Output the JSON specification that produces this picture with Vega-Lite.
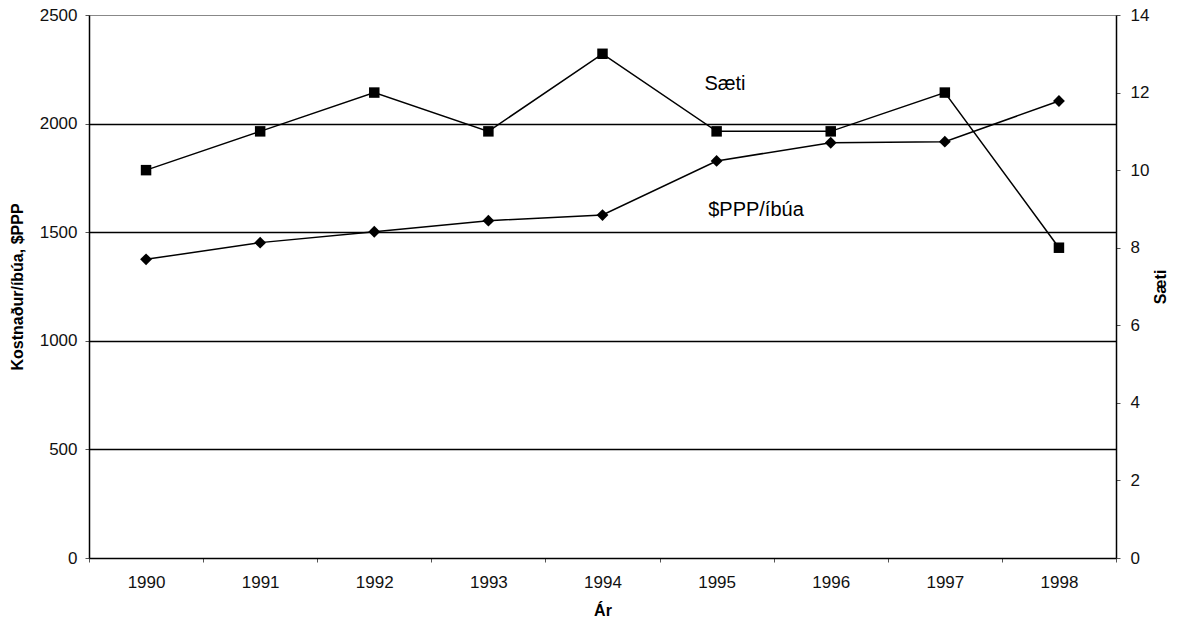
{
  "$schema": "https://vega.github.io/schema/vega-lite/v6.json",
  "width": 1027,
  "height": 543,
  "autosize": {"type": "none"},
  "padding": {"left": 89, "top": 15, "right": 73, "bottom": 68},
  "background": "white",
  "config": {
    "font": "Liberation Sans",
    "view": {"stroke": "#888888", "strokeWidth": 1},
    "axis": {
      "labelFont": "Liberation Sans",
      "titleFont": "Liberation Sans",
      "labelColor": "#111",
      "titleColor": "#000",
      "domainColor": "#000",
      "tickColor": "#555",
      "labelFontSize": 17,
      "titleFontSize": 16,
      "titleFontWeight": "bold"
    }
  },
  "datasets": {
    "main": [
      {"year": "1990", "ppp": 1375, "saeti": 10},
      {"year": "1991", "ppp": 1452, "saeti": 11},
      {"year": "1992", "ppp": 1502, "saeti": 12},
      {"year": "1993", "ppp": 1553, "saeti": 11},
      {"year": "1994", "ppp": 1579, "saeti": 13},
      {"year": "1995", "ppp": 1828, "saeti": 11},
      {"year": "1996", "ppp": 1912, "saeti": 11},
      {"year": "1997", "ppp": 1917, "saeti": 12},
      {"year": "1998", "ppp": 2104, "saeti": 8}
    ]
  },
  "encoding": {
    "x": {
      "field": "year",
      "type": "nominal",
      "scale": {"type": "band", "paddingInner": 0, "paddingOuter": 0},
      "axis": {
        "title": "Ár",
        "labelAngle": 0,
        "tickBand": "extent",
        "tickSize": 4,
        "labelPadding": 12,
        "titlePadding": 12,
        "domainWidth": 1.5
      }
    }
  },
  "layer": [
    {
      "encoding": {
        "y": {
          "type": "quantitative",
          "scale": {"domain": [0, 2500], "nice": false},
          "axis": {
            "title": "Kostnaður/íbúa, $PPP",
            "orient": "left",
            "format": "d",
            "values": [0, 500, 1000, 1500, 2000, 2500],
            "grid": true,
            "gridColor": {"condition": {"test": "datum.value === 0 || datum.value === 2500", "value": "transparent"}, "value": "#000"},
            "gridWidth": 1.6,
            "tickSize": 4,
            "labelPadding": 8,
            "titlePadding": 14,
            "domainWidth": 1.5
          }
        }
      },
      "layer": [
        {
          "data": {"name": "main"},
          "mark": {"type": "line", "color": "#000", "strokeWidth": 1.5},
          "encoding": {"y": {"field": "ppp", "type": "quantitative"}}
        },
        {
          "data": {"name": "main"},
          "mark": {"type": "point", "shape": "diamond", "filled": true, "color": "#000", "size": 140, "opacity": 1},
          "encoding": {"y": {"field": "ppp", "type": "quantitative"}}
        },
        {
          "data": {"values": [{"year": "1995", "v": 2182, "label": "Sæti"}]},
          "mark": {"type": "text", "fontSize": 20, "color": "#000", "baseline": "middle", "align": "center"},
          "encoding": {
            "x": {"field": "year", "type": "nominal", "bandPosition": 0.573},
            "y": {"field": "v", "type": "quantitative"},
            "text": {"field": "label"}
          }
        },
        {
          "data": {"values": [{"year": "1995", "v": 1602, "label": "$PPP/íbúa"}]},
          "mark": {"type": "text", "fontSize": 20, "color": "#000", "baseline": "middle", "align": "center"},
          "encoding": {
            "x": {"field": "year", "type": "nominal", "bandPosition": 0.845},
            "y": {"field": "v", "type": "quantitative"},
            "text": {"field": "label"}
          }
        }
      ]
    },
    {
      "data": {"name": "main"},
      "encoding": {
        "y": {
          "field": "saeti",
          "type": "quantitative",
          "scale": {"domain": [0, 14], "nice": false},
          "axis": {
            "title": "Sæti",
            "orient": "right",
            "titleAngle": 270,
            "values": [0, 2, 4, 6, 8, 10, 12, 14],
            "grid": false,
            "tickSize": 4,
            "labelPadding": 10,
            "titlePadding": 20,
            "domainWidth": 1.5
          }
        }
      },
      "layer": [
        {"mark": {"type": "line", "color": "#000", "strokeWidth": 1.5}},
        {"mark": {"type": "square", "filled": true, "color": "#000", "size": 110, "opacity": 1}}
      ]
    }
  ],
  "resolve": {"scale": {"y": "independent"}, "axis": {"y": "independent"}}
}
